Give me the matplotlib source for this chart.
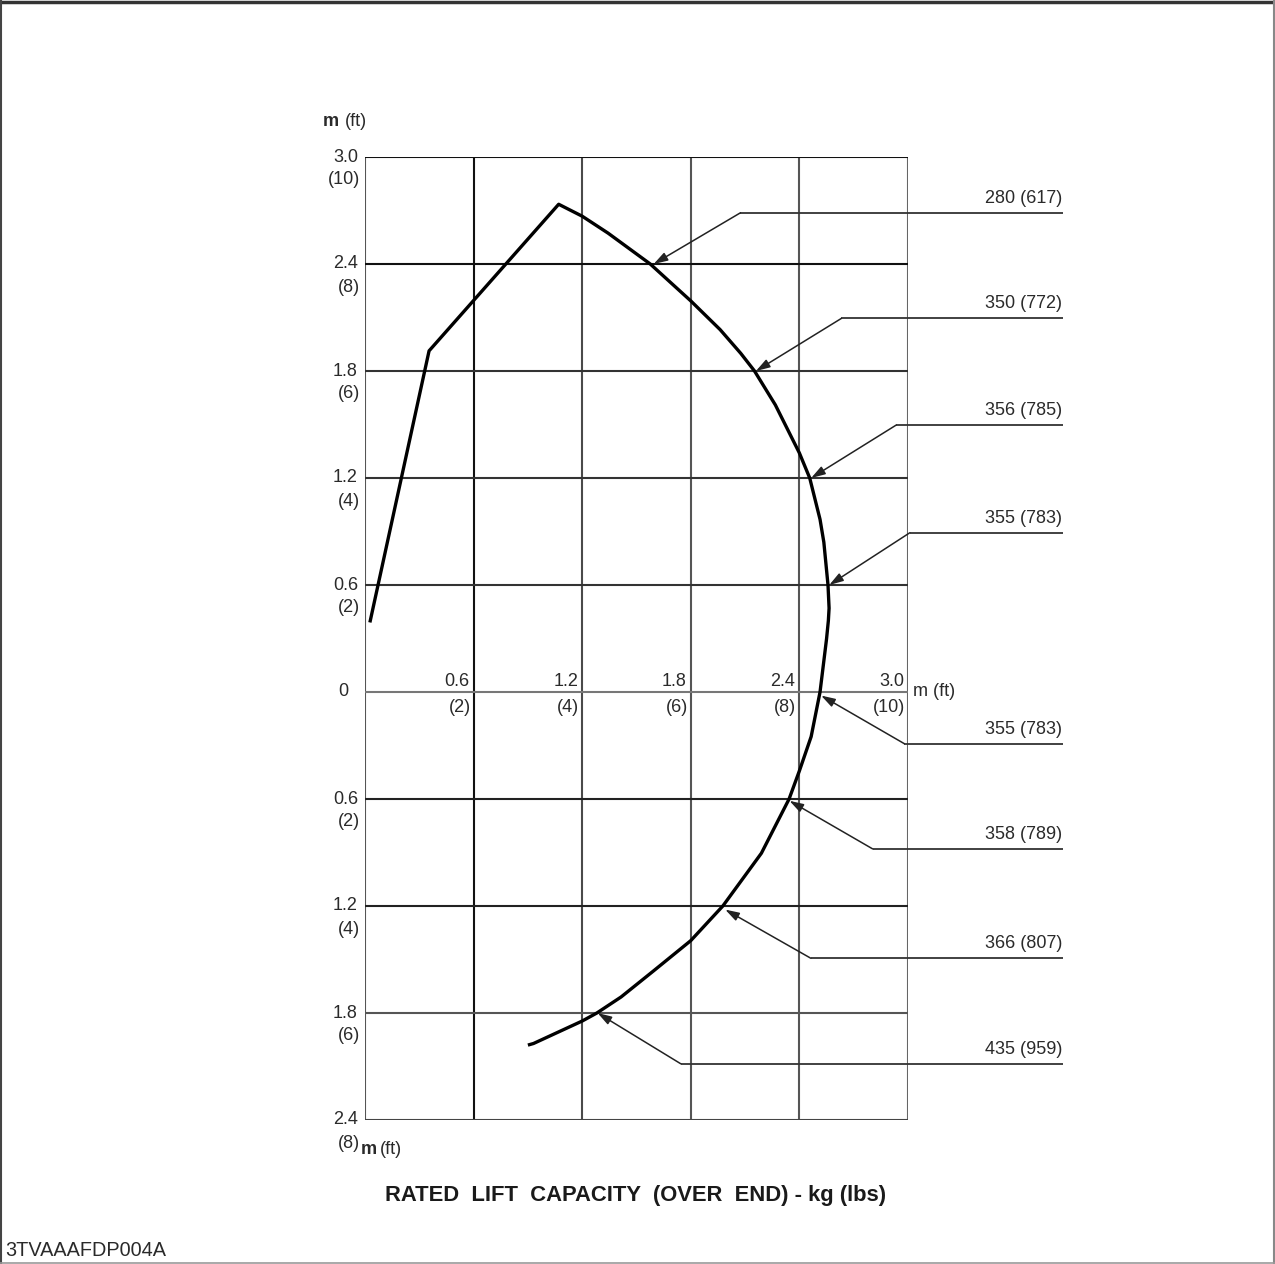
import matplotlib
matplotlib.use("Agg")
import matplotlib.pyplot as plt
from matplotlib.lines import Line2D

# ---------------- data (metres) ----------------
curve_x = [0.027, 0.354, 1.07, 1.20, 1.343, 1.576, 1.80, 1.962, 2.076, 2.152,
           2.267, 2.40, 2.457, 2.514, 2.535, 2.558, 2.564, 2.560, 2.550, 2.514,
           2.465, 2.40, 2.343, 2.19, 1.977, 1.80, 1.594, 1.415, 1.281, 1.20,
           0.931, 0.90]
curve_y = [0.39, 1.913, 2.735, 2.668, 2.573, 2.40, 2.193, 2.032, 1.899, 1.80,
           1.61, 1.34, 1.20, 0.968, 0.84, 0.60, 0.47, 0.40, 0.298, 0.0,
           -0.25, -0.442, -0.60, -0.904, -1.20, -1.394, -1.564, -1.71, -1.80,
           -1.845, -1.971, -1.98]

x_ticks = [0.6, 1.2, 1.8, 2.4, 3.0]
x_tick_m = ["0.6", "1.2", "1.8", "2.4", "3.0"]
x_tick_ft = ["(2)", "(4)", "(6)", "(8)", "(10)"]

y_ticks = [3.0, 2.4, 1.8, 1.2, 0.6, 0.0, -0.6, -1.2, -1.8, -2.4]
y_tick_m = ["3.0", "2.4", "1.8", "1.2", "0.6", "0", "0.6", "1.2", "1.8", "2.4"]
y_tick_ft = ["(10)", "(8)", "(6)", "(4)", "(2)", "", "(2)", "(4)", "(6)", "(8)"]

load_labels = ["280 (617)", "350 (772)", "356 (785)", "355 (783)",
               "355 (783)", "358 (789)", "366 (807)", "435 (959)"]
tip_x = [1.595, 2.16, 2.465, 2.565, 2.52, 2.345, 1.99, 1.285]
tip_y = [2.40, 1.80, 1.20, 0.60, -0.02, -0.61, -1.22, -1.80]
elbow_x = [2.074, 2.632, 2.935, 3.01, 2.98, 2.805, 2.463, 1.745]
elbow_y = [2.687, 2.095, 1.497, 0.893, -0.29, -0.88, -1.493, -2.085]
label_end_x = 3.857

# ---------------- figure ----------------
W, H = 1275, 1264
fig = plt.figure(figsize=(W / 100, H / 100), dpi=100)
fig.patch.set_facecolor("white")

FONT = "Liberation Sans"
TXT = "#2a2a2a"
FS = 13

left_px, right_px, top_px, bot_px = 365, 908, 157, 1120
ax = fig.add_axes([left_px / W, 1 - bot_px / H,
                   (right_px - left_px) / W, (bot_px - top_px) / H])
ax.set_xlim(0, 3.0)
ax.set_ylim(-2.4, 3.0)
ax.axis("off")

# grid lines
vcol = {0.6: "#111111", 1.2: "#4a4a4a", 1.8: "#555555", 2.4: "#555555", 3.0: "#666666"}
for xv in x_ticks:
    ax.axvline(xv, color=vcol[xv], lw=1.5, zorder=1)
ax.axvline(0.0, color="#555555", lw=1.5, zorder=1)
hcol = {3.0: "#111111", 2.4: "#111111", 1.8: "#333333", 1.2: "#333333",
        0.6: "#333333", 0.0: "#777777", -0.6: "#222222", -1.2: "#222222",
        -1.8: "#555555", -2.4: "#444444"}
for yv in y_ticks:
    ax.axhline(yv, color=hcol[yv], lw=1.5, zorder=1)

# main curve
ax.plot(curve_x, curve_y, color="black", lw=2.4, solid_joinstyle="round",
        solid_capstyle="butt", zorder=3, clip_on=False)

# y tick labels
for yv, lm, lf in zip(y_ticks, y_tick_m, y_tick_ft):
    if lm == "0":
        ax.annotate(lm, (0, yv), xytext=(-17, 0), textcoords="offset pixels",
                    ha="right", va="center", fontsize=FS, family=FONT, color=TXT,
                    annotation_clip=False)
        continue
    ax.annotate(lm, (0, yv), xytext=(-7, 0), textcoords="offset pixels",
                ha="right", va="center", fontsize=FS, family=FONT, color=TXT,
                annotation_clip=False)
    ax.annotate(lf, (0, yv), xytext=(-5, -23), textcoords="offset pixels",
                ha="right", va="center", fontsize=FS, family=FONT, color=TXT,
                annotation_clip=False)

# x tick labels
for xv, lm, lf in zip(x_ticks, x_tick_m, x_tick_ft):
    ax.annotate(lm, (xv, 0), xytext=(-4, 11), textcoords="offset pixels",
                ha="right", va="center", fontsize=FS, family=FONT, color=TXT,
                annotation_clip=False)
    ax.annotate(lf, (xv, 0), xytext=(-3, -16), textcoords="offset pixels",
                ha="right", va="center", fontsize=FS, family=FONT, color=TXT,
                annotation_clip=False)

# unit labels
ax.annotate("m (ft)", (3.0, 0), xytext=(5, 0), textcoords="offset pixels",
            ha="left", va="center", fontsize=FS, family=FONT, color=TXT,
            annotation_clip=False)
ax.annotate("m", (0, 3.0), xytext=(-42, 35), textcoords="offset pixels",
            ha="left", va="center", fontsize=FS, family=FONT, color=TXT,
            fontweight="bold", annotation_clip=False)
ax.annotate("(ft)", (0, 3.0), xytext=(-20, 35), textcoords="offset pixels",
            ha="left", va="center", fontsize=FS, family=FONT, color=TXT,
            annotation_clip=False)
ax.annotate("m", (0, -2.4), xytext=(-4, -29), textcoords="offset pixels",
            ha="left", va="center", fontsize=FS, family=FONT, color=TXT,
            fontweight="bold", annotation_clip=False)
ax.annotate("(ft)", (0, -2.4), xytext=(15, -29), textcoords="offset pixels",
            ha="left", va="center", fontsize=FS, family=FONT, color=TXT,
            annotation_clip=False)

# load annotations
for lab, tx, ty, ex, ey in zip(load_labels, tip_x, tip_y, elbow_x, elbow_y):
    ax.plot([ex, label_end_x], [ey, ey], color="#333333", lw=1.3,
            clip_on=False, zorder=2, solid_capstyle="butt")
    ax.annotate("", xy=(tx, ty), xytext=(ex, ey),
                arrowprops=dict(arrowstyle="-|>,head_length=0.7,head_width=0.22",
                                color="#222222", lw=1.1, shrinkA=0, shrinkB=0,
                                mutation_scale=12),
                annotation_clip=False, zorder=4)
    ax.annotate(lab, (label_end_x, ey), xytext=(-1, 6), textcoords="offset pixels",
                ha="right", va="bottom", fontsize=FS, family=FONT, color=TXT,
                annotation_clip=False)

# title and id
fig.text(635.5 / W, 1 - 1196 / H, "RATED  LIFT  CAPACITY  (OVER  END) - kg (lbs)",
         ha="center", va="center", fontsize=15.8, fontweight="bold",
         family=FONT, color="#1a1a1a")
fig.text(5 / W, 1 - 1251 / H, "3TVAAAFDP004A", ha="left", va="center",
         fontsize=14.3, family=FONT, color=TXT)

# frame
fig.add_artist(Line2D([0, 1], [1 - 1.5 / H, 1 - 1.5 / H], transform=fig.transFigure,
                      color="#333333", lw=2.5))
fig.add_artist(Line2D([1.5 / W, 1.5 / W], [0, 1], transform=fig.transFigure,
                      color="#444444", lw=1.5))
fig.add_artist(Line2D([1 - 1.2 / W, 1 - 1.2 / W], [0, 1], transform=fig.transFigure,
                      color="#888888", lw=1.5))
fig.add_artist(Line2D([0, 1], [1.0 / H, 1.0 / H], transform=fig.transFigure,
                      color="#999999", lw=1.2))

fig.savefig("out.png", dpi=100, facecolor="white")
